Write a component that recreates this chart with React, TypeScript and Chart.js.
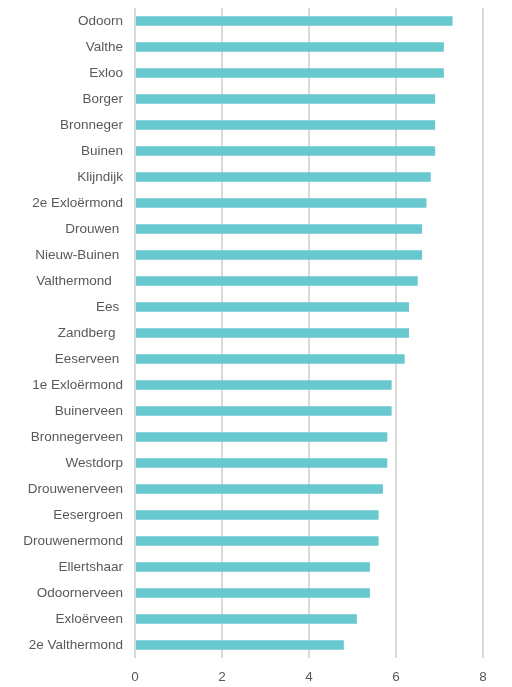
import React, { useEffect, useRef } from "react";
import { Chart, registerables } from "chart.js";

Chart.register(...registerables);

const categories = [
  "Odoorn",
  "Valthe",
  "Exloo",
  "Borger",
  "Bronneger",
  "Buinen",
  "Klijndijk",
  "2e Exloërmond",
  "Drouwen ",
  "Nieuw-Buinen ",
  "Valthermond   ",
  "Ees ",
  "Zandberg  ",
  "Eeserveen ",
  "1e Exloërmond",
  "Buinerveen",
  "Bronnegerveen",
  "Westdorp",
  "Drouwenerveen",
  "Eesergroen",
  "Drouwenermond",
  "Ellertshaar",
  "Odoornerveen",
  "Exloërveen",
  "2e Valthermond",
];

const values = [
  7.3, 7.1, 7.1, 6.9, 6.9, 6.9, 6.8, 6.7, 6.6, 6.6, 6.5, 6.3, 6.3, 6.2, 5.9, 5.9,
  5.8, 5.8, 5.7, 5.6, 5.6, 5.4, 5.4, 5.1, 4.8,
];

const xMin = 0;
const xMax = 8;
const xStep = 2;

export default function App() {
  const ref = useRef<HTMLCanvasElement>(null);
  useEffect(() => {
    document.body.style.margin = "0";
    const ctx = ref.current!;
    const font = { family: "'Liberation Sans', Arial, sans-serif", size: 13.5 };
    const chart = new Chart(ctx, {
      type: "bar",
      data: {
        labels: categories,
        datasets: [
          {
            data: values,
            backgroundColor: "#68c8cf",
            borderWidth: 0,
            barPercentage: 0.72,
            categoryPercentage: 0.5,
          },
        ],
      },
      options: {
        indexAxis: "y",
        animation: false,
        responsive: false,
        maintainAspectRatio: false,
        layout: { padding: { top: 8, right: 29, left: 0, bottom: 0 } },
        plugins: { legend: { display: false }, tooltip: { enabled: false } },
        scales: {
          x: {
            min: xMin,
            max: xMax,
            ticks: { stepSize: xStep, color: "#595959", font, padding: 11 },
            grid: { color: "#d9d9d9", lineWidth: 2, drawTicks: false },
            border: { display: false },
            afterFit: (s: any) => {
              s.height = 29;
              s.paddingLeft = 0;
              s.paddingRight = 0;
            },
          },
          y: {
            ticks: { color: "#595959", font, padding: 12, autoSkip: false },
            grid: { display: false, drawTicks: false },
            border: { display: false },
            afterFit: (s: any) => {
              s.width = 135;
              s.paddingTop = 0;
              s.paddingBottom = 0;
            },
          },
        },
      },
    });
    return () => chart.destroy();
  }, []);
  return (
    <div style={{ width: 512, height: 687 }}>
      <canvas ref={ref} width={512} height={687} style={{ display: "block" }} />
    </div>
  );
}
